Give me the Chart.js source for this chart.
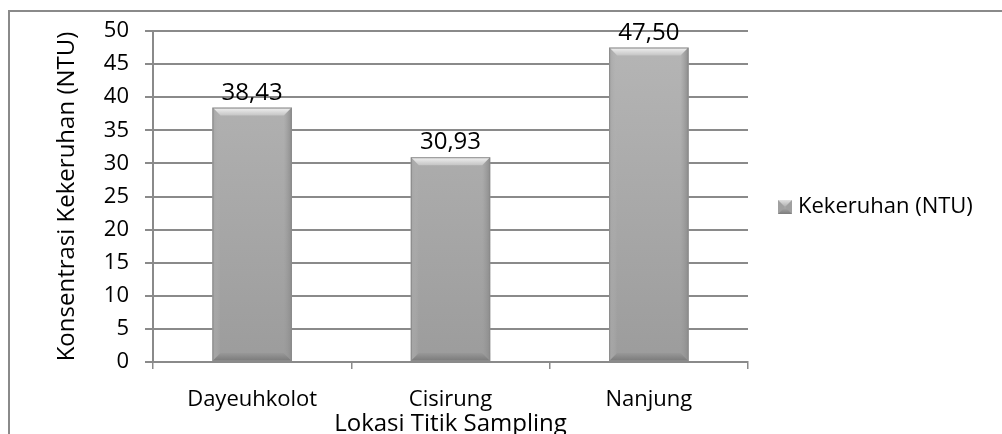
<!DOCTYPE html>
<html>
<head>
<meta charset="utf-8">
<script src="https://cdn.jsdelivr.net/npm/chart.js@4.4.1/dist/chart.umd.min.js"></script>
<style>
  html, body { margin: 0; padding: 0; background: #fff; }
  #wrap { width: 1002px; height: 434px; position: relative; }
</style>
</head>
<body>
<div id="wrap"><canvas id="turbidityChart"></canvas></div>
<script>
(() => {
	'use strict'

	// Data
	const locations = ['Dayeuhkolot', 'Cisirung', 'Nanjung'];
	const turbidity = [38.43, 30.93, 47.50];
	const seriesName = 'Kekeruhan (NTU)';
	const yMin = 0;
	const yMax = 50;
	const yStep = 5;

	const fontFamily = "'Open Sans', 'Noto Sans', sans-serif";
	const lineColor = '#8a8a8a';
	const textColor = '#000000';

	// Values are written with a decimal comma
	function formatValue(v) {
		return v.toFixed(2).replace('.', ',');
	}

	// White background plus the outer frame (top and left edges only)
	const framePlugin = {
		id: 'frame',
		beforeDraw(chart) {
			const ctx = chart.ctx;
			ctx.save();
			ctx.fillStyle = '#ffffff';
			ctx.fillRect(0, 0, chart.width, chart.height);
			ctx.strokeStyle = lineColor;
			ctx.lineWidth = 2;
			ctx.beginPath();
			ctx.moveTo(chart.width, 11);
			ctx.lineTo(9, 11);
			ctx.lineTo(9, chart.height);
			ctx.stroke();
			ctx.restore();
		}
	};

	// Bevelled edges on each bar, taken from the bar elements' geometry
	const bevelPlugin = {
		id: 'bevel',
		afterDatasetsDraw(chart) {
			const ctx = chart.ctx;
			const meta = chart.getDatasetMeta(0);
			meta.data.forEach((bar) => {
				const w = bar.width;
				const l = bar.x - w / 2;
				const r = bar.x + w / 2;
				const t = bar.y;
				const b = bar.base;
				const bv = 8;
				ctx.save();

				// top bevel
				let g = ctx.createLinearGradient(0, t, 0, t + bv);
				g.addColorStop(0, '#f2f2f2');
				g.addColorStop(1, '#c4c4c4');
				ctx.fillStyle = g;
				ctx.beginPath();
				ctx.moveTo(l, t); ctx.lineTo(r, t); ctx.lineTo(r - bv, t + bv); ctx.lineTo(l + bv, t + bv);
				ctx.closePath(); ctx.fill();

				// left bevel
				g = ctx.createLinearGradient(l, 0, l + bv, 0);
				g.addColorStop(0, '#a4a4a4');
				g.addColorStop(1, 'rgba(180,180,180,0)');
				ctx.fillStyle = g;
				ctx.beginPath();
				ctx.moveTo(l, t); ctx.lineTo(l + bv, t + bv); ctx.lineTo(l + bv, b - bv); ctx.lineTo(l, b);
				ctx.closePath(); ctx.fill();

				// right bevel
				g = ctx.createLinearGradient(r - bv, 0, r, 0);
				g.addColorStop(0, 'rgba(150,150,150,0)');
				g.addColorStop(1, '#8c8c8c');
				ctx.fillStyle = g;
				ctx.beginPath();
				ctx.moveTo(r, t); ctx.lineTo(r - bv, t + bv); ctx.lineTo(r - bv, b - bv); ctx.lineTo(r, b);
				ctx.closePath(); ctx.fill();

				// bottom bevel
				g = ctx.createLinearGradient(0, b - bv, 0, b);
				g.addColorStop(0, '#989898');
				g.addColorStop(1, '#7a7a7a');
				ctx.fillStyle = g;
				ctx.beginPath();
				ctx.moveTo(l, b); ctx.lineTo(r, b); ctx.lineTo(r - bv, b - bv); ctx.lineTo(l + bv, b - bv);
				ctx.closePath(); ctx.fill();

				// outline
				ctx.strokeStyle = '#8a8a8a';
				ctx.lineWidth = 1;
				ctx.strokeRect(l + 0.5, t + 0.5, w - 1, b - t - 1);
				ctx.restore();
			});
		}
	};

	// Value labels above the bars
	const valueLabelPlugin = {
		id: 'valueLabels',
		afterDatasetsDraw(chart) {
			const ctx = chart.ctx;
			const meta = chart.getDatasetMeta(0);
			const values = chart.data.datasets[0].data;
			ctx.save();
			ctx.font = '24px ' + fontFamily;
			ctx.fillStyle = textColor;
			ctx.textAlign = 'center';
			ctx.textBaseline = 'alphabetic';
			meta.data.forEach((bar, i) => {
				ctx.fillText(formatValue(values[i]), bar.x, bar.y - 8);
			});
			ctx.restore();
		}
	};

	// Legend on the right side
	const sideLegendPlugin = {
		id: 'sideLegend',
		afterDraw(chart) {
			const ctx = chart.ctx;
			const x = 778;
			const y = 207;
			const s = 14;
			ctx.save();
			// marker
			ctx.fillStyle = '#a0a0a0';
			ctx.fillRect(x, y - s / 2, s, s);
			const g = ctx.createLinearGradient(0, y - s / 2, 0, y + s / 2);
			g.addColorStop(0, '#e0e0e0');
			g.addColorStop(1, '#7c7c7c');
			ctx.fillStyle = g;
			ctx.beginPath();
			ctx.moveTo(x, y - s / 2); ctx.lineTo(x + s, y - s / 2); ctx.lineTo(x + s / 2, y);
			ctx.closePath(); ctx.fill();
			ctx.beginPath();
			ctx.moveTo(x, y + s / 2); ctx.lineTo(x + s, y + s / 2); ctx.lineTo(x + s / 2, y);
			ctx.closePath(); ctx.fill();
			// label
			ctx.font = '22px ' + fontFamily;
			ctx.fillStyle = textColor;
			ctx.textAlign = 'left';
			ctx.textBaseline = 'middle';
			ctx.fillText(chart.data.datasets[0].label, x + s + 6, y);
			ctx.restore();
		}
	};

	const ctxEl = document.getElementById('turbidityChart');

	const dataChart = {
		labels: locations,
		datasets: [{
			label: seriesName,
			data: turbidity,
			backgroundColor: (c) => {
				const area = c.chart.chartArea;
				if (!area) return '#a8a8a8';
				const g = c.chart.ctx.createLinearGradient(0, area.top, 0, area.bottom);
				g.addColorStop(0, '#b6b6b6');
				g.addColorStop(1, '#9c9c9c');
				return g;
			},
			borderWidth: 0,
			barPercentage: 0.4,
			categoryPercentage: 1.0
		}]
	};

	const configChart = {
		type: 'bar',
		data: dataChart,
		plugins: [framePlugin, bevelPlugin, valueLabelPlugin, sideLegendPlugin],
		options: {
			responsive: true,
			maintainAspectRatio: false,
			animation: false,
			layout: {
				padding: { left: 40, top: 31, right: 254, bottom: 0 }
			},
			plugins: {
				tooltip: { enabled: false },
				legend: { display: false },
				title: { display: false }
			},
			scales: {
				x: {
					afterFit: (scale) => { scale.height = 72; },
					grid: {
						display: true,
						offset: true,
						drawOnChartArea: false,
						drawTicks: true,
						tickLength: 7,
						color: lineColor,
						lineWidth: 1.5
					},
					border: { display: true, color: lineColor, width: 2 },
					ticks: {
						color: textColor,
						padding: 18,
						font: { family: fontFamily, size: 22 }
					},
					title: {
						display: true,
						text: 'Lokasi Titik Sampling',
						color: textColor,
						padding: { top: 0, bottom: -2 },
						font: { family: fontFamily, size: 24, lineHeight: 1 }
					}
				},
				y: {
					min: yMin,
					max: yMax,
					afterFit: (scale) => { scale.width = 113; },
					grid: {
						color: lineColor,
						lineWidth: 2,
						tickLength: 8,
						drawTicks: true
					},
					border: { display: true, color: lineColor, width: 2 },
					ticks: {
						stepSize: yStep,
						color: textColor,
						padding: 16,
						font: { family: fontFamily, size: 22 }
					},
					title: {
						display: true,
						text: 'Konsentrasi Kekeruhan (NTU)',
						color: textColor,
						padding: { top: 13, bottom: 0 },
						font: { family: fontFamily, size: 24 }
					}
				}
			}
		}
	};

	const turbidityChart = new Chart(ctxEl, configChart);
})()
</script>
</body>
</html>
